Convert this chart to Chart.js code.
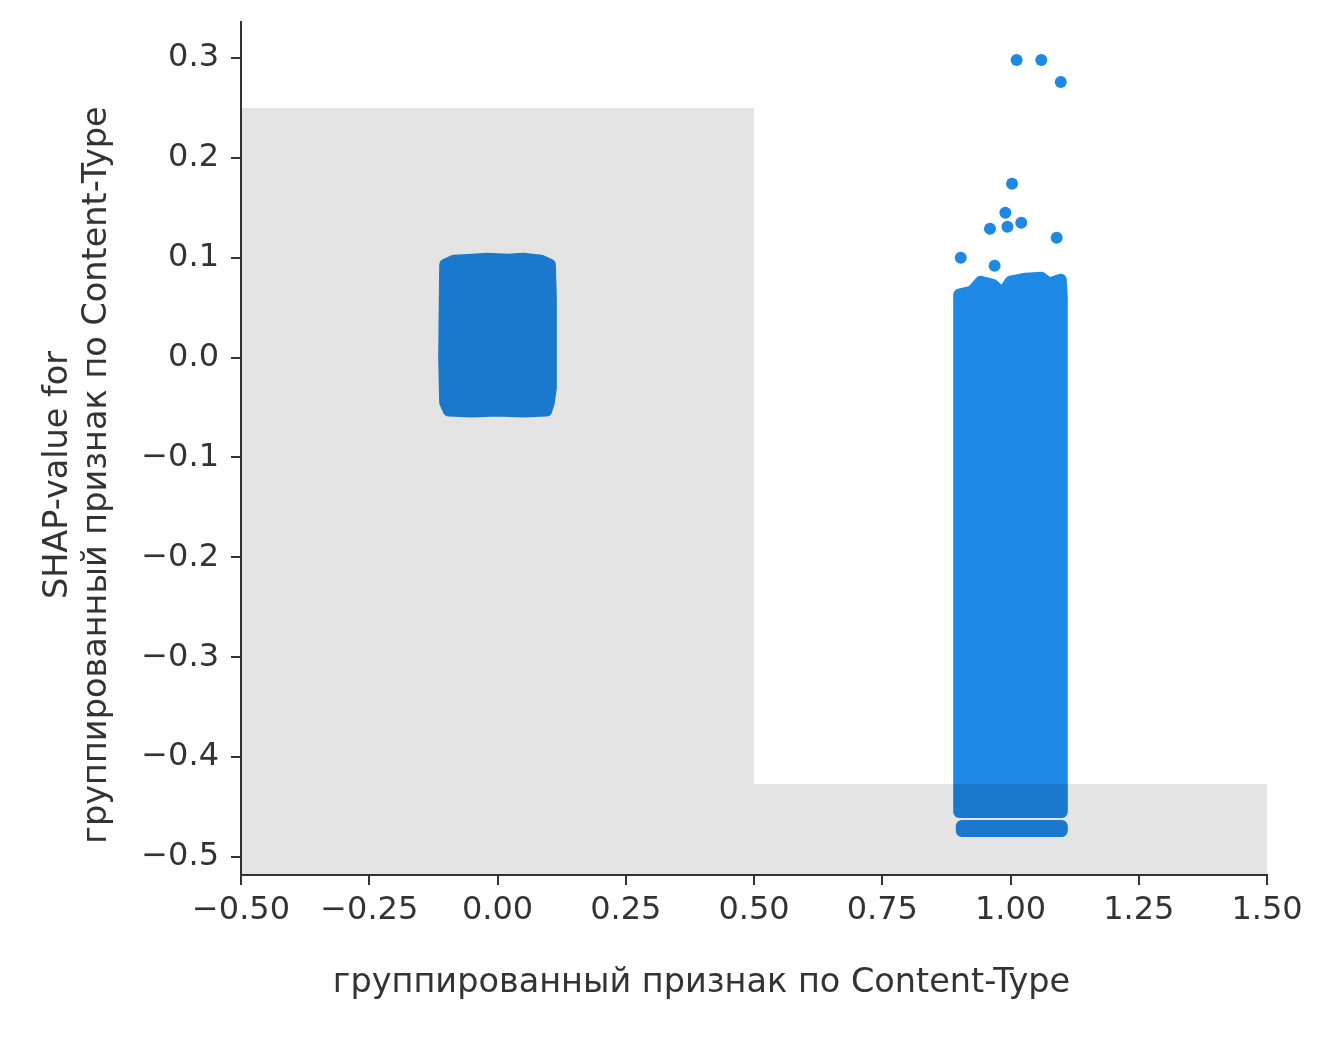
<!DOCTYPE html>
<html>
<head>
<meta charset="utf-8">
<script src="https://cdn.jsdelivr.net/npm/chart.js@4/dist/chart.umd.min.js"></script>
<style>
  html, body { margin: 0; padding: 0; background: #fff; }
  canvas { display: block; }
</style>
</head>
<body>
<canvas id="shapChart" width="1326" height="1053"></canvas>
<script>
// --- data ---

const xTickValues = [-0.5, -0.25, 0, 0.25, 0.5, 0.75, 1, 1.25, 1.5];
const xTickLabels = ['\u22120.50', '\u22120.25', '0.00', '0.25', '0.50', '0.75', '1.00', '1.25', '1.50'];
const yTickValues = [-0.5, -0.4, -0.3, -0.2, -0.1, 0, 0.1, 0.2, 0.3];
const yTickLabels = ['\u22120.5', '\u22120.4', '\u22120.3', '\u22120.2', '\u22120.1', '0.0', '0.1', '0.2', '0.3'];

const xTitle = 'группированный признак по Content-Type';
const yTitle = ['SHAP-value for', 'группированный признак по Content-Type'];

// histogram of the feature (grey background): bin edges and bar tops
const histEdges = [-0.5, 0.5, 1.5];
const histTops = [0.25, -0.427];

// outline of the dense cloud at feature = 0 (dot centres)
const leftCloudX = [-0.102, -0.085, -0.05, -0.02, 0.02, 0.05, 0.085, 0.102, 0.104, 0.104, 0.100, 0.095, 0.05, 0.0, -0.05, -0.095, -0.102, -0.104, -0.102];
const leftCloudY = [0.093, 0.097, 0.098, 0.099, 0.098, 0.099, 0.097, 0.093, 0.06, -0.03, -0.045, -0.053, -0.054, -0.053, -0.054, -0.053, -0.045, 0.0, 0.093];

// outline of the dense cloud at feature = 1
const rightCloudX = [0.9, 0.925, 0.942, 0.965, 0.985, 1.0, 1.03, 1.06, 1.075, 1.098, 1.1, 1.1, 1.1, 1.0, 0.9, 0.9];
const rightCloudY = [0.063, 0.066, 0.076, 0.073, 0.064, 0.076, 0.079, 0.08, 0.074, 0.078, 0.06, -0.2, -0.455, -0.455, -0.455, 0.063];

// lowest strip of the cloud at feature = 1
const rightStripX = [0.905, 1.1, 1.1, 0.905, 0.905];
const rightStripY = [-0.469, -0.469, -0.474, -0.474, -0.469];

// single points above the cloud at feature = 1
const outlierX = [1.012, 1.060, 1.098, 1.003, 0.990, 1.021, 0.994, 0.960, 1.090, 0.903, 0.969];
const outlierY = [0.298, 0.298, 0.276, 0.174, 0.145, 0.135, 0.131, 0.129, 0.120, 0.100, 0.092];

// --- chart ---

const BLUE = '#1e88e5';
const INK = '#333333';
const HIST_SHADE = 'rgba(0, 0, 0, 0.105)';

function toPoints(xs, ys) {
    return xs.map((x, i) => ({ x: x, y: ys[i] }));
}

function histPoints(edges, tops) {
    const pts = [];
    for (let i = 0; i < tops.length; i++) {
        pts.push({ x: edges[i], y: tops[i] });
        pts.push({ x: edges[i + 1], y: tops[i] });
    }
    return pts;
}

function cloudDataset(xs, ys) {
    return {
        type: 'line',
        data: toPoints(xs, ys),
        showLine: true,
        borderColor: BLUE,
        backgroundColor: BLUE,
        borderWidth: 12,
        borderJoinStyle: 'round',
        borderCapStyle: 'round',
        pointRadius: 0,
        tension: 0,
        fill: 'shape'
    };
}

// small line height on the y ticks keeps the plot top where it is in the original
const xTickFont = { family: 'DejaVu Sans', size: 32 };
const yTickFont = { family: 'DejaVu Sans', size: 32, lineHeight: 0.6 };
const titleFont = { family: 'DejaVu Sans', size: 33.5, lineHeight: '39px', weight: 'normal' };

const ctx = document.getElementById('shapChart').getContext('2d');

new Chart(ctx, {
    type: 'scatter',
    data: {
        datasets: [
            {
                // drawn last (on top), like the shaded histogram in the original
                type: 'line',
                data: histPoints(histEdges, histTops),
                showLine: true,
                borderWidth: 0,
                pointRadius: 0,
                tension: 0,
                backgroundColor: HIST_SHADE,
                fill: 'start'
            },
            {
                data: toPoints(outlierX, outlierY),
                pointRadius: 6,
                pointBorderWidth: 0,
                backgroundColor: BLUE
            },
            cloudDataset(leftCloudX, leftCloudY),
            cloudDataset(rightCloudX, rightCloudY),
            cloudDataset(rightStripX, rightStripY)
        ]
    },
    options: {
        responsive: false,
        devicePixelRatio: 1,
        animation: false,
        events: [],
        layout: { autoPadding: false, padding: { top: -103, left: 0, right: -77, bottom: 0 } },
        plugins: {
            legend: { display: false },
            tooltip: { enabled: false },
            title: {
                display: true,
                position: 'left',
                text: yTitle,
                color: INK,
                font: titleFont,
                padding: { top: 38.5, bottom: 0 }
            },
            subtitle: {
                display: true,
                position: 'bottom',
                text: xTitle,
                color: INK,
                font: titleFont,
                padding: { top: 0, bottom: 50.5 }
            }
        },
        scales: {
            x: {
                type: 'linear',
                position: 'bottom',
                min: -0.5,
                max: 1.5,
                afterBuildTicks: scale => { scale.ticks = xTickValues.map(v => ({ value: v })); },
                afterFit: scale => { scale.height = 88.5; },
                ticks: {
                    color: INK,
                    font: xTickFont,
                    padding: 6,
                    maxRotation: 0,
                    autoSkip: false,
                    callback: (value, i) => xTickLabels[i]
                },
                grid: { drawOnChartArea: false, drawTicks: true, tickLength: 10, color: INK, lineWidth: 2 },
                border: { display: true, color: INK, width: 2 }
            },
            y: {
                type: 'linear',
                position: 'left',
                min: -0.518,
                max: 0.336,
                afterBuildTicks: scale => { scale.ticks = yTickValues.map(v => ({ value: v })); },
                afterFit: scale => { scale.width = 124.5; },
                ticks: {
                    color: INK,
                    font: yTickFont,
                    padding: 12,
                    autoSkip: false,
                    callback: (value, i) => yTickLabels[i]
                },
                grid: { drawOnChartArea: false, drawTicks: true, tickLength: 10, color: INK, lineWidth: 2 },
                border: { display: true, color: INK, width: 2 }
            },
            // empty boxes that only hold space, so the plot area sits where it does in the original
            xSpacer: {
                type: 'linear',
                position: 'top',
                display: true,
                ticks: { display: false },
                grid: { display: false },
                border: { display: false },
                afterFit: scale => { scale.height = 125; }
            },
            ySpacer: {
                type: 'linear',
                position: 'right',
                display: true,
                ticks: { display: false },
                grid: { display: false },
                border: { display: false },
                afterFit: scale => { scale.width = 136; }
            }
        }
    }
});
</script>
</body>
</html>
